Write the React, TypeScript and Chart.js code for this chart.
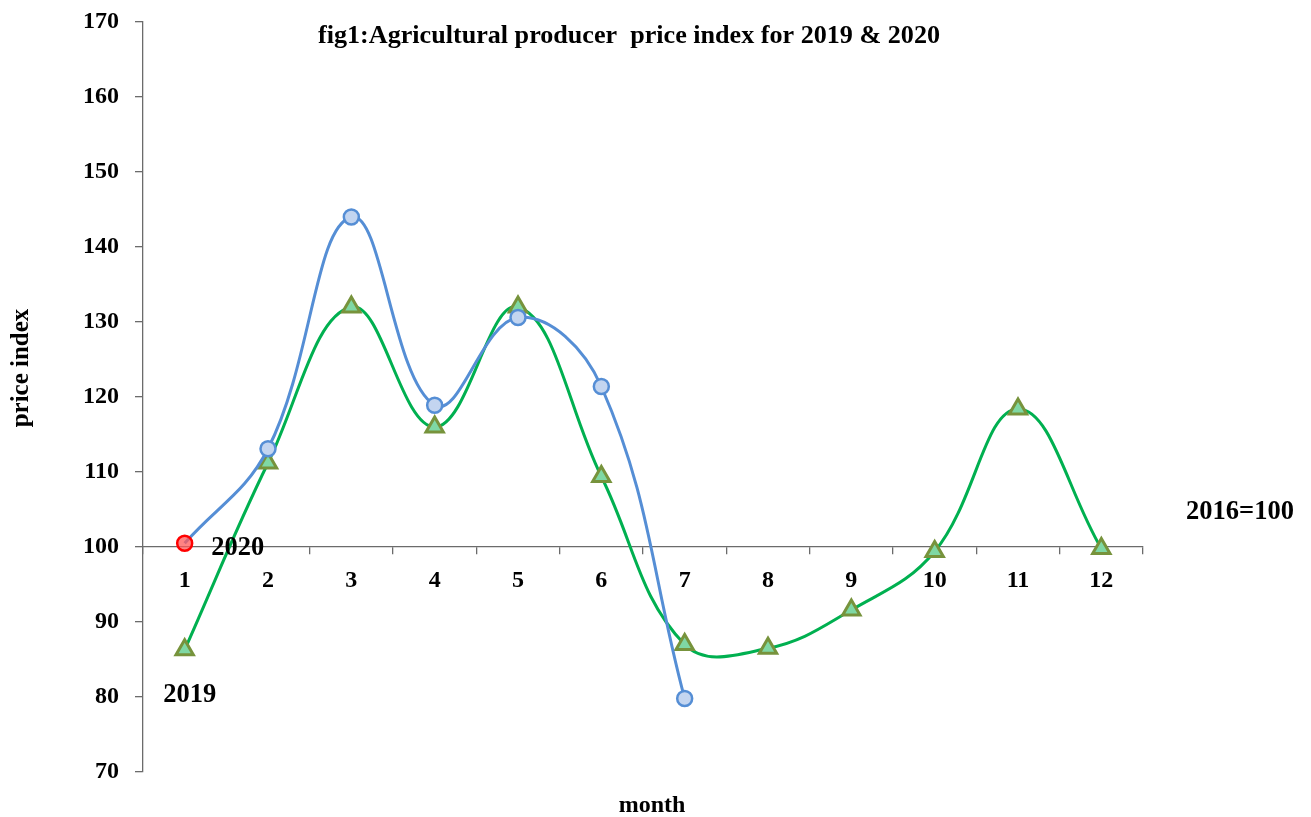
import React, { useEffect, useRef } from "react";
import { Chart, registerables } from "chart.js";

Chart.register(...registerables);

const months = ["1", "2", "3", "4", "5", "6", "7", "8", "9", "10", "11", "12"];
const index2020 = [100.5, 113.1, 144.0, 118.9, 130.6, 121.4, 79.8];
const index2019 = [86.3, 111.2, 132.0, 116.0, 132.0, 109.4, 87.0, 86.5, 91.6, 99.4, 118.4, 99.8];
const yTicks = [70, 80, 90, 100, 110, 120, 130, 140, 150, 160, 170];

const FONT = "'Liberation Serif', 'Times New Roman', serif";

const textPlugin = {
  id: "textPlugin",
  afterDraw(chart: any) {
    const ctx = chart.ctx;
    const area = chart.chartArea;
    const ys = chart.scales.y;
    const m2020 = chart.getDatasetMeta(0).data[0];
    const m2019 = chart.getDatasetMeta(1).data[0];
    ctx.save();
    ctx.fillStyle = "#000";
    ctx.textAlign = "center";
    ctx.textBaseline = "middle";

    // title (condensed)
    const title = "fig1:Agricultural producer  price index for 2019 & 2020";
    ctx.font = `bold 26px ${FONT}`;
    const tw = ctx.measureText(title).width;
    const target = 622;
    ctx.save();
    ctx.translate(629, 36);
    ctx.scale(target / tw, 1);
    ctx.fillText(title, 0, 0);
    ctx.restore();

    ctx.font = `bold 24px ${FONT}`;
    ctx.fillText("month", 652, 806);

    ctx.font = `bold 25px ${FONT}`;
    ctx.save();
    ctx.translate(22, 368);
    ctx.rotate(-Math.PI / 2);
    ctx.fillText("price index", 0, 0);
    ctx.restore();

    ctx.font = `bold 26.5px ${FONT}`;
    ctx.fillText("2016=100", area.right + 97, ys.getPixelForValue(100) - 35);
    if (m2020) ctx.fillText("2020", m2020.x + 53, m2020.y + 5);
    if (m2019) ctx.fillText("2019", m2019.x + 5, m2019.y + 45);
    ctx.restore();
  },
};

export default function App() {
  const ref = useRef<HTMLCanvasElement>(null);
  useEffect(() => {
    if (!ref.current) return;
    const pointBg2020 = index2020.map((_, i) => (i === 0 ? "rgba(255,90,90,0.75)" : "#c3d5f0"));
    const pointBd2020 = index2020.map((_, i) => (i === 0 ? "#ff0000" : "#558ED5"));
    const chart = new Chart(ref.current, {
      type: "line",
      data: {
        labels: months,
        datasets: [
          {
            label: "2020",
            data: index2020,
            borderColor: "#558ED5",
            borderWidth: 3,
            tension: 0.4,
            pointStyle: "circle",
            pointRadius: 7.5,
            pointBorderWidth: 2.5,
            pointBackgroundColor: pointBg2020,
            pointBorderColor: pointBd2020,
            fill: false,
          },
          {
            label: "2019",
            data: index2019,
            borderColor: "#00B050",
            borderWidth: 3,
            tension: 0.4,
            pointStyle: "triangle",
            pointRadius: 10,
            pointBorderWidth: 3,
            pointBackgroundColor: "#7fd8a4",
            pointBorderColor: "#77933C",
            fill: false,
          },
        ],
      },
      options: {
        responsive: false,
        animation: false,
        devicePixelRatio: 1,
        layout: { padding: { left: 0, right: 168, top: 22, bottom: 45 } },
        plugins: {
          legend: { display: false },
          tooltip: { enabled: false },
          title: { display: false },
        },
        scales: {
          x: {
            type: "category",
            position: { y: 100 } as any,
            offset: true,
            grid: {
              display: true,
              offset: true,
              drawOnChartArea: false,
              drawTicks: true,
              tickLength: 7,
              color: "#6b6b6b",
              lineWidth: 1.3,
            },
            border: { display: true, color: "#6b6b6b", width: 1.3 },
            ticks: {
              color: "#000",
              font: { family: FONT, size: 24, weight: "bold" },
              padding: 12,
              maxRotation: 0,
              autoSkip: false,
            },
          },
          y: {
            type: "linear",
            min: 70,
            max: 170,
            afterFit: (scale: any) => {
              scale.width = 143;
            },
            afterBuildTicks: (scale: any) => {
              scale.ticks = yTicks.map((v) => ({ value: v }));
            },
            grid: {
              display: true,
              drawOnChartArea: false,
              drawTicks: true,
              tickLength: 8,
              color: "#6b6b6b",
              lineWidth: 1.3,
            },
            border: { display: true, color: "#6b6b6b", width: 1.3 },
            ticks: {
              color: "#000",
              font: { family: FONT, size: 24, weight: "bold", lineHeight: 0.5 },
              padding: 16,
            },
          },
        },
      },
      plugins: [textPlugin],
    });
    return () => chart.destroy();
  }, []);
  return (
    <div style={{ position: "fixed", left: 0, top: 0, width: 1311, height: 817, background: "#fff" }}>
      <canvas ref={ref} width={1311} height={817} />
    </div>
  );
}
